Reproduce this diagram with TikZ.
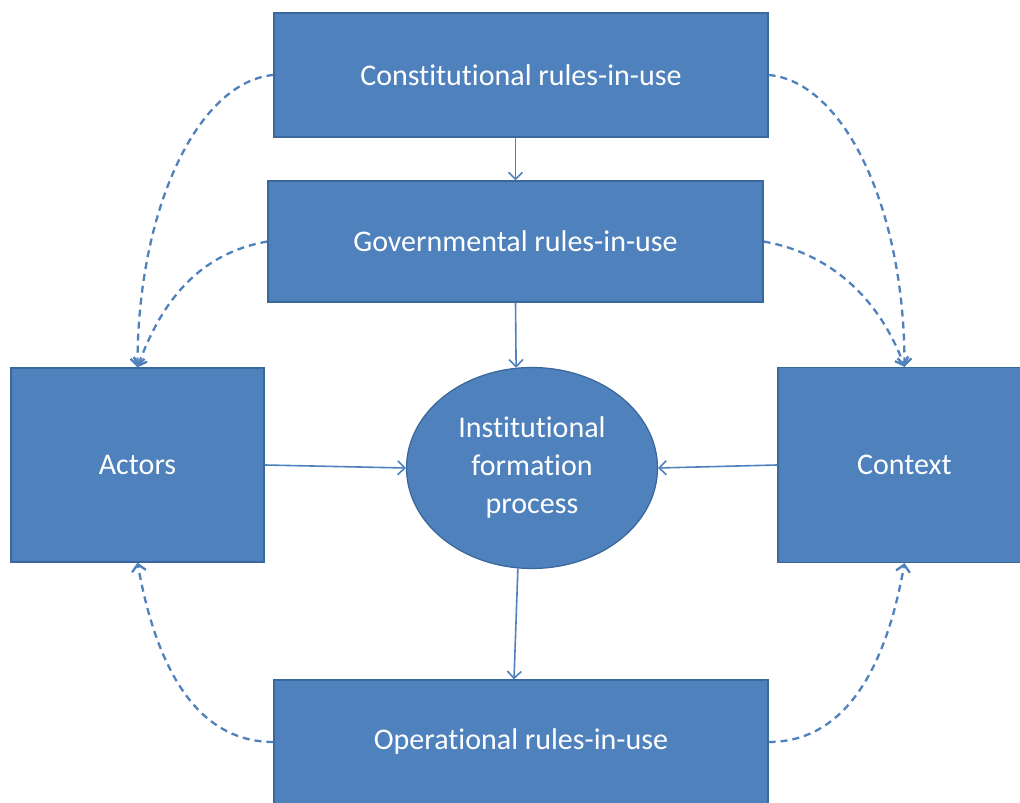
\documentclass[tikz,border=0pt]{standalone}
\usepackage{fontspec}
\setmainfont[Ligatures=NoCommon]{Carlito}
\usetikzlibrary{calc,arrows.meta,shapes.geometric}
\definecolor{boxblue}{HTML}{4F81BD}
\definecolor{boxedge}{HTML}{3A679C}

\begin{document}
\begin{tikzpicture}[x=1pt,y=1pt,
    rulebox/.style={rectangle,draw=boxedge,line width=1.2pt,fill=boxblue,
        text=white,inner sep=0pt,font=\fontsize{30}{38}\selectfont},
    procnode/.style={rulebox,ellipse,align=center},
    flowarrow/.style={draw=boxblue,line width=1.6pt,-{Straight Barb[length=7pt,width=14pt]}},
    dasharrow/.style={flowarrow,line width=2.3pt,dash pattern=on 7pt off 5pt}]
\clip (0,0) rectangle (1020,803);
\fill[white] (0,0) rectangle (1020,803);

%規則層級
\node[rulebox,minimum width=494,minimum height=124] (cConstBox) at (521,728) {Constitutional rules-in-use};
\node[rulebox,minimum width=495,minimum height=121] (cGovBox) at (515.5,561.5) {Governmental rules-in-use};
\node[rulebox,minimum width=494,minimum height=124] (cOperBox) at (521,61) {Operational rules-in-use};
\node[rulebox,minimum width=253,minimum height=194] (cActBox) at (137.5,338) {Actors};
\node[rulebox,minimum width=253,minimum height=195] (cCtxBox) at (904.5,338) {Context};
\node[procnode,minimum width=251,minimum height=201] (cProcPt) at (532,335) {Institutional\\formation\\process};

\draw[flowarrow] (cConstBox.south -| cGovBox.north) -- (cGovBox.north);
\draw[flowarrow] (cGovBox.south) -- (cProcPt.99);
\draw[flowarrow] (cActBox.east) -- (cProcPt.west);
\draw[flowarrow] (cCtxBox.west) -- (cProcPt.east);
\draw[flowarrow] (cProcPt.262) -- ($ (cOperBox.north) + (-7,0) $);

%虛線回饋
\draw[dasharrow] (cConstBox.west) .. controls +(185:75) and +(90:160) .. (cActBox.north);
\draw[dasharrow] (cGovBox.west) .. controls +(190:70) and +(70:70) .. (cActBox.north);
\draw[dasharrow] (cOperBox.west) .. controls +(180:80) and +(-80:100) .. (cActBox.south);
\draw[dasharrow] (cConstBox.east) .. controls +(-5:75) and +(90:160) .. (cCtxBox.north);
\draw[dasharrow] (cGovBox.east) .. controls +(-10:70) and +(110:70) .. (cCtxBox.north);
\draw[dasharrow] (cOperBox.east) .. controls +(0:80) and +(-100:100) .. (cCtxBox.south);
\end{tikzpicture}
\end{document}
